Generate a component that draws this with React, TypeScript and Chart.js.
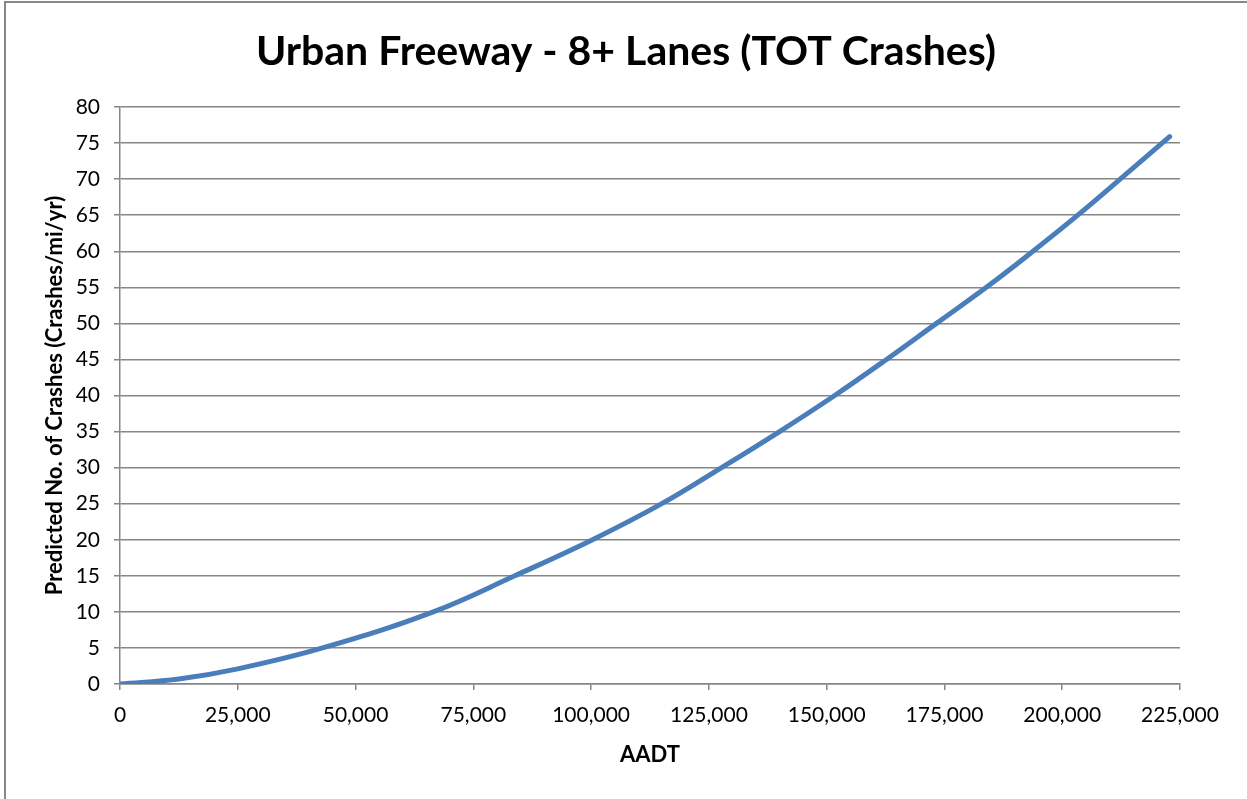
import React, { useEffect, useRef } from "react";
import { Chart, registerables } from "chart.js";

Chart.register(...registerables);

const titleText = "Urban Freeway - 8+ Lanes (TOT Crashes)";
const xAxisTitle = "AADT";
const yAxisTitle = "Predicted No. of Crashes (Crashes/mi/yr)";

// AADT values
const aadt = [0, 12500, 25000, 43000, 66500, 83800, 100300, 115000, 127700, 140000, 151700, 162700, 173300, 183900, 193800, 203300, 212300, 222800];
// Predicted crashes (crashes/mi/yr)
const crashes = [0, 0.7, 2.1, 5, 10, 15, 20, 25, 30, 35, 40, 45, 50, 55, 60, 65, 70, 75.9];

const xMin = 0;
const xMax = 225000;
const xStep = 25000;
const yMin = 0;
const yMax = 80;
const yStep = 5;

const FONT = "Lato, 'Open Sans', sans-serif";

const titlePlugin = {
  id: "customTitle",
  afterDraw(chart: any) {
    const ctx = chart.ctx;
    ctx.save();
    ctx.font = `bold 41px ${FONT}`;
    ctx.fillStyle = "#000";
    ctx.textAlign = "center";
    ctx.textBaseline = "middle";
    ctx.fillText(titleText, 626, 52);
    ctx.restore();
  },
};

export default function App() {
  const ref = useRef<HTMLCanvasElement | null>(null);

  useEffect(() => {
    if (!ref.current) return;
    const points = aadt.map((x, i) => ({ x, y: crashes[i] }));
    const chart = new Chart(ref.current, {
      type: "line",
      data: {
        datasets: [
          {
            label: "TOT",
            data: points,
            borderColor: "#4a7ebb",
            backgroundColor: "#4a7ebb",
            borderWidth: 5,
            borderCapStyle: "round",
            borderJoinStyle: "round",
            pointRadius: 0,
            tension: 0.4,
            fill: false,
          },
        ],
      },
      plugins: [titlePlugin],
      options: {
        responsive: false,
        animation: false,
        layout: { padding: { left: 0, right: 67, top: 107, bottom: 0 } },
        plugins: {
          legend: { display: false },
          tooltip: { enabled: false },
          title: { display: false },
        },
        scales: {
          x: {
            type: "linear",
            min: xMin,
            max: xMax,
            afterFit: (s: any) => {
              s.height = 115;
            },
            ticks: {
              stepSize: xStep,
              color: "#000",
              font: { family: FONT, size: 21 },
              padding: 13,
              maxRotation: 0,
              callback: (v: any) => Number(v).toLocaleString("en-US"),
            },
            grid: {
              drawOnChartArea: false,
              drawTicks: true,
              tickLength: 6,
              color: "#868686",
              lineWidth: 1.5,
            },
            border: { color: "#868686", width: 1.5 },
            title: {
              display: true,
              text: xAxisTitle,
              color: "#000",
              font: { family: FONT, size: 22, weight: "bold", lineHeight: 1.2 },
              padding: { top: 0, bottom: 31 },
            },
          },
          y: {
            min: yMin,
            max: yMax,
            afterFit: (s: any) => {
              s.width = 120;
            },
            ticks: {
              stepSize: yStep,
              color: "#000",
              font: { family: FONT, size: 21 },
              padding: 14,
            },
            grid: {
              drawTicks: true,
              tickLength: 6,
              color: "#868686",
              lineWidth: 1.5,
            },
            border: { color: "#868686", width: 1.5 },
            title: {
              display: true,
              text: yAxisTitle,
              color: "#000",
              font: { family: FONT, size: 22, weight: "bold", lineHeight: 1.2 },
              padding: { top: 42, bottom: 0 },
            },
          },
        },
      },
    });
    return () => chart.destroy();
  }, []);

  return (
    <div style={{ position: "fixed", left: 0, top: 0, width: 1247, height: 799, background: "#fff" }}>
      <canvas ref={ref} width={1247} height={799} style={{ display: "block" }} />
      <div style={{ position: "absolute", left: 4, top: 1, width: 1243, height: 2, background: "#878787" }} />
      <div style={{ position: "absolute", left: 4, top: 1, width: 2, height: 798, background: "#878787" }} />
    </div>
  );
}
